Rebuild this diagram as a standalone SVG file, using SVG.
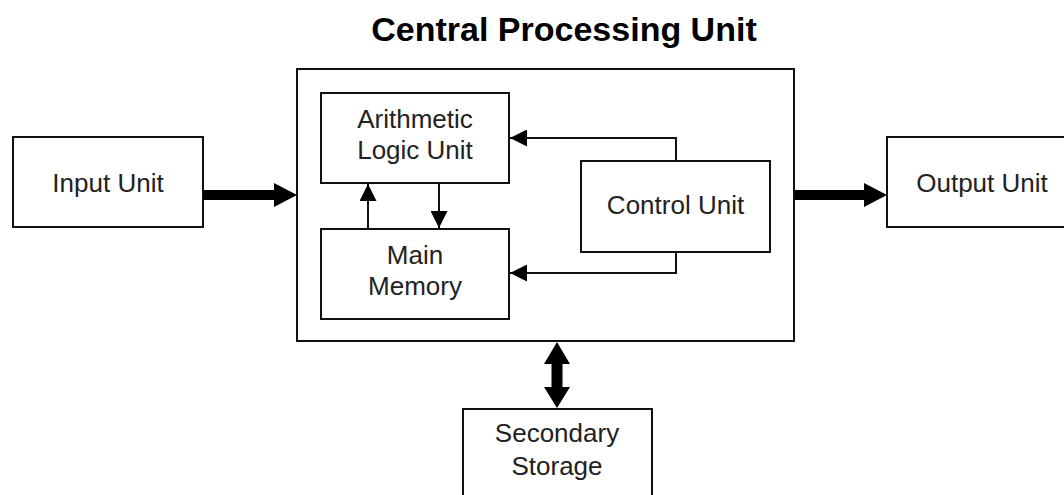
<svg xmlns="http://www.w3.org/2000/svg" width="1064" height="495" viewBox="0 0 1064 495">
  <style>
    .box { fill: #ffffff; stroke: #111111; stroke-width: 2; }
    .lbl { font-family: "Liberation Sans", Arial, sans-serif; font-size: 26px; fill: #222222; text-anchor: middle; }
    .title { font-family: "Liberation Sans", Arial, sans-serif; font-size: 34px; font-weight: bold; fill: #000000; text-anchor: middle; }
    .thin { fill: none; stroke: #111111; stroke-width: 2; }
    .thick { fill: #000000; stroke: none; }
  </style>
  <defs>
    <marker id="ah" viewBox="0 0 10 10" refX="10" refY="5" markerUnits="userSpaceOnUse" markerWidth="18" markerHeight="17" orient="auto">
      <path d="M0,0 L10,5 L0,10 Z" fill="#000000"/>
    </marker>
  </defs>
  <rect width="1064" height="495" fill="#ffffff"/>

  <text class="title" x="564" y="41">Central Processing Unit</text>

  <g id="cpu">
    <rect class="box" x="297" y="69" width="497" height="272"/>
  </g>
  <g id="input-unit">
    <rect class="box" x="13" y="137" width="190" height="90"/>
    <text class="lbl" x="108" y="192">Input Unit</text>
  </g>
  <g id="output-unit">
    <rect class="box" x="887" y="137" width="190" height="90"/>
    <text class="lbl" x="982" y="192">Output Unit</text>
  </g>
  <g id="alu">
    <rect class="box" x="321" y="93" width="188" height="90"/>
    <text class="lbl" x="415" y="128">Arithmetic</text>
    <text class="lbl" x="415" y="159">Logic Unit</text>
  </g>
  <g id="main-memory">
    <rect class="box" x="321" y="229" width="188" height="90"/>
    <text class="lbl" x="415" y="264">Main</text>
    <text class="lbl" x="415" y="295">Memory</text>
  </g>
  <g id="control-unit">
    <rect class="box" x="581" y="161" width="189" height="91"/>
    <text class="lbl" x="675.5" y="214">Control Unit</text>
  </g>
  <g id="secondary-storage">
    <rect class="box" x="463" y="409" width="189" height="100"/>
    <text class="lbl" x="557" y="442">Secondary</text>
    <text class="lbl" x="557" y="475">Storage</text>
  </g>

  <g id="connectors">
    <!-- thick arrows -->
    <path class="thick" d="M203,190 L274,190 L274,183 L297,195 L274,207 L274,200 L203,200 Z"/>
    <path class="thick" d="M795,190 L864,190 L864,183 L887,195 L864,207 L864,200 L795,200 Z"/>
    <path class="thick" d="M557,342 L570,364 L562.5,364 L562.5,387 L570,387 L557,408 L544,387 L551.5,387 L551.5,364 L544,364 Z"/>
    <!-- thin arrows -->
    <polyline class="thin" points="676,161 676,138 510,138" marker-end="url(#ah)"/>
    <polyline class="thin" points="676,252 676,273 510,273" marker-end="url(#ah)"/>
    <line class="thin" x1="439" y1="183" x2="439" y2="228" marker-end="url(#ah)"/>
    <line class="thin" x1="368" y1="229" x2="368" y2="184" marker-end="url(#ah)"/>
  </g>
</svg>
